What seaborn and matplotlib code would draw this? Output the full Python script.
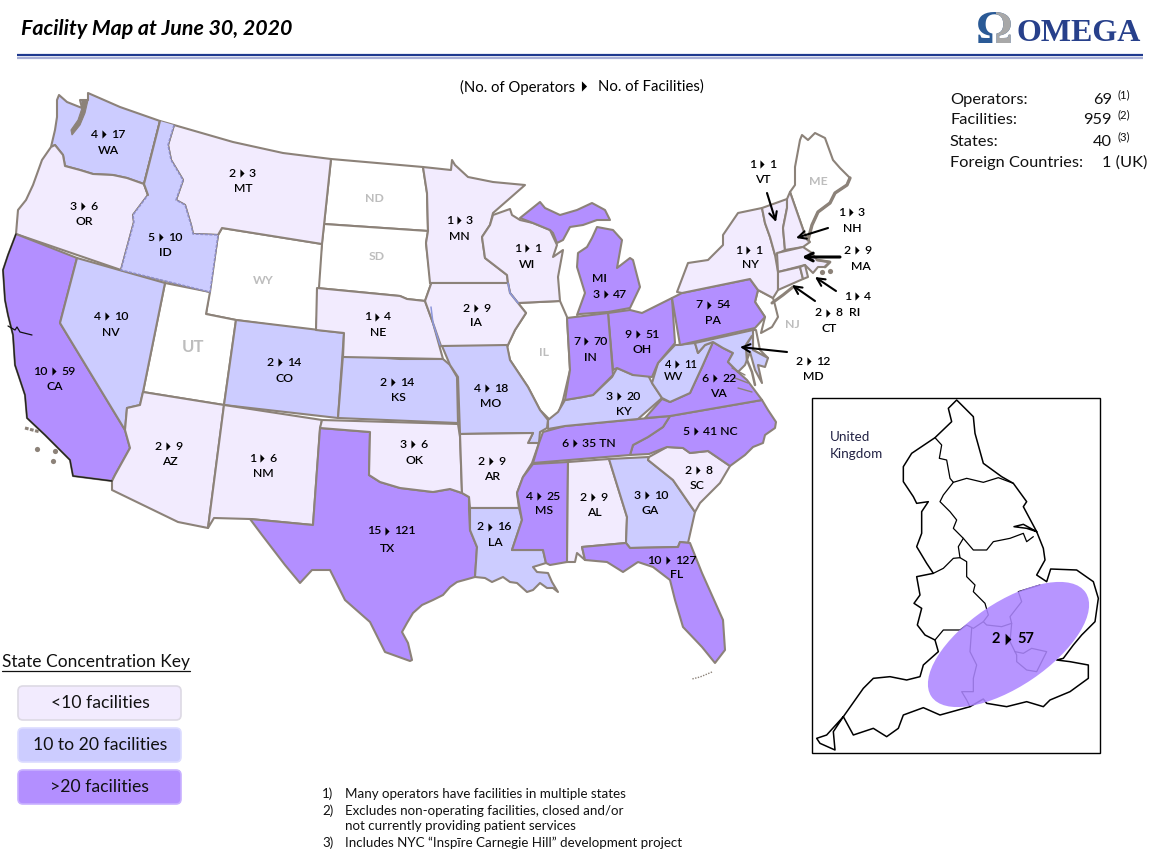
import numpy as np
import pandas as pd
import matplotlib
matplotlib.use("Agg")
import matplotlib.pyplot as plt
from matplotlib.patches import Polygon, Ellipse, FancyBboxPatch, Rectangle
import seaborn as sns

# ---------- values ----------
STATE_CODES = ["WA","OR","CA","NV","ID","MT","NE","CO","KS","AZ","NM","TX","OK","MO","AR","LA","MS","AL","GA","SC",
               "FL","KY","VA","WV","IN","OH","PA","MI","WI","MN","IA","NY","VT","NH","MA","RI","CT","MD","NC","TN"]
OPERATORS  = [4,3,10,4,5,2,1,2,2,2,1,15,3,4,2,2,4,2,3,2,10,3,6,4,7,9,7,3,1,1,2,1,1,1,2,1,2,2,5,6]
FACILITIES = [17,6,59,10,10,3,4,14,14,9,6,121,6,18,9,16,25,9,10,8,127,20,22,11,70,51,54,47,1,3,9,1,1,3,9,4,8,12,41,35]
LABEL_X = [104,83,54,107,161,242,377,280,393,168,262,387,413,487,491,490,539,593,647,698,
           668,619,715,677,586,638,709,606,527,459,476,748,762,851,857,857,828,809,696,575]
LABEL_Y = [134,206,371,316,237,173,317,362,382,446,458,531,444,388,461,527,496,497,495,470,
           560,396,378,364,341,334,305,294,248,220,308,250,164,212,250,296,313,361,431,443]
NAME_X  = [108,84,55,111,165,243,378,284,398,170,263,387,415,491,492,495,544,594,650,697,
           677,624,718,674,590,642,713,599,527,459,476,750,763,852,861,855,829,813,0,0]
NAME_Y  = [150,221,386,332,252,188,332,378,397,461,473,548,460,403,476,543,511,512,510,485,
           575,411,393,376,357,349,320,278,264,236,323,265,179,228,266,312,328,376,0,0]
NO_DATA_CODES = ["ND","SD","WY","UT","IL","NJ","ME"]
NO_DATA_X = [374,377,263,193,544,792,818]
NO_DATA_Y = [198,257,281,347,352,325,181]
KEY_LABELS = ["<10 facilities","10 to 20 facilities",">20 facilities"]
STAT_NAMES = ["Operators:","Facilities:","States:","Foreign Countries:"]
STAT_VALUES = ["69","959","40"]
STAT_NOTES = ["(1)","(2)","(3)"]
FOOTNOTES = ["Many operators have facilities in multiple states",
             "Excludes non-operating facilities, closed and/or",
             "not currently providing patient services",
             "Includes NYC \u201cInsp\u012bre Carnegie Hill\u201d development project"]

# ---------- outlines ----------
SHAPES = {
"ND":[(331,159),(423,167),(427,193),(428,231),(324,224)],
"SD":[(324,224),(428,231),(426,243),(431,284),(425,301),(407,299),(400,296),(317,288)],
"WY":[(222,228),(322,244),(316,331),(236,320),(206,314),(218,235)],
"UT":[(165,283),(210,292),(206,314),(236,320),(224,405),(143,392)],
"IL":[(518,303),(560,301),(567,317),(570,370),(563,400),(557,417),(550,420),(540,410),(528,387),(510,360),(507,347),(515,330),(526,313)],
"NJ":[(773,298),(758,290),(755,302),(765,317),(761,333),(772,327),(778,317),(775,305)],
"ME":[(790,192),(795,185),(795,167),(800,140),(802,135),(808,140),(815,133),(825,138),(833,160),(840,168),(850,178),(847,185),(835,193),(830,203),(818,212),(812,225),(808,240),(805,235)],
"DE":[(753,330),(756,330),(760,350),(768,358),(753,350)],
"WA":[(59,95),(67,102),(82,108),(80,100),(88,100),(88,93),(120,107),(160,121),(144,184),(127,178),(113,175),(93,174),(80,170),(65,166),(63,155),(55,145),(51,147),(55,130),(57,117),(57,100)],
"OR":[(51,147),(55,145),(63,155),(65,166),(80,170),(93,174),(113,175),(127,178),(144,184),(148,195),(133,215),(134,222),(121,270),(16,234),(18,210),(26,200),(33,185),(42,160)],
"CA":[(16,234),(77,258),(60,323),(125,430),(130,448),(115,475),(112,481),(73,476),(70,460),(45,435),(27,418),(25,395),(15,365),(13,335),(8,315),(5,300),(3,270),(8,255)],
"NV":[(77,258),(165,283),(143,392),(140,405),(127,408),(125,430),(60,323)],
"MT":[(174,125),(233,142),(283,153),(331,159),(322,244),(222,228),(218,235),(193,234),(191,225),(185,205),(176,200),(183,180),(171,160),(168,145)],
"ID":[(160,121),(174,125),(168,145),(171,160),(183,180),(176,200),(185,205),(191,225),(193,234),(218,235),(210,292),(121,270),(134,222),(133,215),(148,195),(144,184)],
"CO":[(236,320),(344,333),(338,418),(224,405)],
"AZ":[(143,392),(224,405),(208,528),(178,522),(112,490),(112,481),(115,475),(130,448),(125,430),(127,408),(140,405)],
"NM":[(224,405),(322,420),(320,430),(313,525),(250,519),(214,518),(208,528)],
"TX":[(320,428),(370,432),(369,475),(380,482),(400,488),(433,492),(450,489),(462,493),(469,497),(469,509),(470,530),(477,547),(475,577),(457,582),(450,587),(443,595),(433,600),(422,605),(413,613),(407,623),(402,632),(408,643),(412,660),(410,661),(385,652),(370,622),(345,600),(330,570),(312,570),(300,583),(285,565),(262,535),(250,519),(313,525)],
"OK":[(322,420),(458,424),(460,437),(462,493),(450,489),(433,492),(400,488),(380,482),(369,475),(370,432),(320,428)],
"KS":[(343,355),(400,359),(443,359),(450,365),(457,377),(458,423),(338,418)],
"NE":[(317,288),(400,296),(407,299),(425,301),(433,323),(443,359),(343,357),(344,333),(316,330)],
"MN":[(423,167),(451,170),(452,160),(455,165),(468,177),(493,182),(525,185),(493,213),(490,225),(482,237),(485,258),(507,275),(508,283),(430,283),(426,243),(428,231),(427,193)],
"WI":[(493,215),(510,209),(512,215),(520,220),(533,223),(550,230),(557,245),(553,257),(563,250),(558,277),(560,301),(518,303),(510,293),(508,283),(507,275),(485,258),(482,237),(490,225)],
"IA":[(430,283),(508,283),(510,293),(518,303),(526,313),(515,330),(507,347),(441,346),(433,323),(425,301),(431,284)],
"MO":[(442,346),(507,345),(510,360),(528,387),(540,410),(548,420),(547,428),(540,432),(539,443),(528,443),(533,433),(460,434),(458,377),(450,365)],
"AR":[(460,434),(533,433),(528,443),(539,443),(532,463),(523,477),(517,493),(519,508),(470,508),(469,497),(462,493)],
"LA":[(470,508),(519,508),(522,520),(512,550),(543,550),(546,563),(533,567),(537,572),(548,573),(552,582),(558,592),(553,588),(547,588),(540,583),(533,590),(527,592),(517,583),(510,582),(503,577),(492,582),(485,578),(475,577),(477,547),(470,530)],
"MS":[(533,464),(568,462),(567,562),(550,565),(546,563),(543,550),(512,550),(522,520),(517,493),(523,477)],
"AL":[(568,462),(609,459),(627,517),(626,543),(582,547),(585,560),(577,553),(575,562),(567,562)],
"GA":[(609,459),(649,457),(648,460),(673,480),(695,512),(688,543),(680,542),(678,547),(630,548),(626,543),(627,517)],
"FL":[(582,547),(626,543),(630,548),(678,547),(680,542),(690,543),(702,573),(723,620),(725,650),(715,663),(702,647),(683,627),(675,600),(670,580),(653,567),(638,562),(623,572),(607,562),(585,560)],
"SC":[(649,457),(667,447),(683,448),(690,453),(708,451),(730,466),(720,483),(700,503),(695,512),(673,480),(648,460)],
"NC":[(670,416),(762,400),(768,410),(776,422),(775,428),(765,435),(763,443),(753,447),(745,455),(730,466),(708,451),(690,453),(683,448),(667,447),(649,454),(630,455),(633,445),(648,437),(663,427)],
"TN":[(543,432),(565,426),(670,416),(663,427),(648,437),(633,445),(630,455),(533,463),(539,443)],
"KY":[(548,420),(548,429),(565,426),(638,419),(662,398),(652,383),(648,375),(633,375),(617,368),(612,377),(593,395),(583,397),(565,400),(558,412)],
"VA":[(645,418),(662,399),(670,402),(690,393),(702,367),(713,342),(723,348),(733,353),(728,362),(738,372),(747,380),(762,400),(670,416)],
"WV":[(652,383),(658,363),(675,345),(678,345),(695,343),(698,353),(705,345),(713,342),(702,367),(690,393),(670,402),(662,398)],
"OH":[(608,313),(630,310),(642,313),(672,298),(675,343),(658,363),(652,377),(633,375),(617,368),(613,370)],
"IN":[(567,318),(608,313),(613,375),(593,395),(583,397),(565,400),(570,370)],
"MI":[(580,314),(608,312),(630,308),(640,287),(633,260),(630,258),(617,268),(622,240),(613,230),(597,227),(592,238),(587,247),(578,253),(577,267),(585,293),(577,315)],
"MI2":[(520,218),(540,202),(545,208),(560,215),(577,210),(592,203),(605,210),(610,220),(597,220),(583,225),(570,227),(563,240),(557,243),(553,233),(550,230),(533,223)],
"PA":[(682,293),(750,279),(758,290),(755,302),(765,317),(755,328),(680,345),(672,298)],
"NY":[(682,293),(677,292),(688,263),(708,260),(723,245),(723,235),(738,213),(762,208),(765,223),(770,237),(775,255),(778,272),(778,290),(773,298),(758,290),(750,279)],
"VT":[(762,208),(787,199),(787,208),(783,228),(785,250),(775,255),(770,237),(765,223)],
"NH":[(787,199),(790,192),(805,235),(810,242),(803,247),(785,250),(783,228),(787,208)],
"MA":[(777,253),(803,247),(812,253),(817,260),(830,262),(825,267),(818,267),(813,273),(805,265),(778,272)],
"CT":[(778,272),(800,267),(803,279),(778,290)],
"RI":[(800,267),(805,265),(808,277),(803,279)],
"MD":[(695,343),(753,330),(753,350),(768,358),(765,367),(758,365),(762,383),(755,370),(750,352),(745,365),(738,372),(728,362),(733,353),(723,348),(713,342),(705,345),(698,353)],
}
SECOND_PART = {"MI2":"MI"}
ID_DASHED = [(174,125),(168,145),(171,160),(183,180),(176,200),(185,205),(191,225),(193,234),(218,235),(210,292),(121,270),(134,222),(133,215),(148,195)]
IA_BLUE_W = [(431,307),(433,323),(440,345)]
IA_BLUE_E = [(508,283),(510,293),(518,303)]
CA_COAST = [(16,234),(8,255),(3,270),(5,300),(8,315),(13,335),(15,365),(25,395),(27,418),(45,435),(70,460),(73,476),(112,481)]
SF_BAY = [(8,326),(15,330),(17,327),(20,332),(32,335)]
PUGET = [(82,100),(88,100),(85,113),(80,125),(72,135),(71,130),(78,120),(82,108)]
LONG_ISLAND = [(772,303),(783,295),(793,287)]
ME_COAST = [(850,178),(847,185),(835,193),(830,203),(818,212),(812,225),(808,240)]
CAPE = [(817,260),(830,262),(825,267)]
CHESAPEAKE = [(752,336),(746,345),(747,360),(752,372),(755,385)]
VA_RIVERS = [[(735,378),(748,383)],[(738,388),(752,392)],[(732,368),(745,375)]]
CA_ISLAND_LINE = [(25,428),(40,432)]
CA_ISLANDS_X = [37,55,53]
CA_ISLANDS_Y = [449,451,461]
MA_ISLANDS_X = [830,822]
MA_ISLANDS_Y = [271,272]
FL_KEYS = [(712,672),(700,677),(692,679)]

UK_OUTLINE = [(440,15),(490,65),(495,115),(520,205),(575,245),(610,265),(650,320),(640,335),(680,410),(650,400),(612,395),(640,388),(680,410),(700,460),(705,495),(680,540),(710,560),(722,522),(800,525),(850,560),(865,610),(855,680),(815,720),(790,750),(760,790),(740,795),(780,800),(835,810),(835,850),(780,890),(720,915),(700,935),(650,920),(590,935),(530,925),(520,912),(480,935),(390,960),(340,938),(280,960),(265,1000),(230,1025),(190,1000),(130,1020),(100,965),(70,1010),(75,1065),(30,1045),(20,1030),(50,1020),(100,965),(160,880),(190,850),(240,845),(290,855),(330,845),(340,810),(385,770),(375,735),(345,720),(322,690),(335,640),(312,625),(330,600),(320,545),(370,535),(350,505),(320,455),(335,415),(335,350),(355,320),(320,325),(310,305),(280,260),(280,215),(305,175),(375,128),(425,80),(415,40),(440,15)]
UK_BORDERS = [
 [(375,128),(395,150),(388,190),(410,195),(420,250),(430,262)],
 [(430,262),(400,300),(390,320),(420,350),(440,375),(430,400),(460,430),(490,465),(530,465),(550,440),(600,430),(640,415),(650,440),(670,425)],
 [(430,262),(470,250),(520,262),(565,248),(610,265)],
 [(460,430),(445,455),(450,488),(470,500),(470,545),(495,570),(490,590),(525,625),(535,660),(520,680),(490,700),(470,690),(450,705),(400,705),(375,735)],
 [(450,488),(430,490),(400,520),(370,535)],
 [(690,570),(625,590),(635,620),(600,665),(605,685),(575,695),(530,690),(520,680)],
 [(605,685),(600,740),(620,780),(620,800),(650,825),(680,830),(710,770),(665,760),(640,775),(615,770)],
 [(485,700),(480,770),(500,810),(490,850),(490,890),(455,890),(470,915),(480,935)],
]

# ---------- style ----------
sns.set_theme(style="white")
plt.rcParams["font.family"] = ["Lato", "DejaVu Sans"]
KEY_COLORS = sns.color_palette(["#F2EBFE", "#CCCCFF", "#B38FFF"])
EDGE = "#8C8279"
NAVY = "#1F3A8F"
TRI = [(-0.5, -1), (0.5, 0), (-0.5, 1)]

def shade(n):
    return KEY_COLORS[0] if n < 10 else (KEY_COLORS[2] if n > 20 else KEY_COLORS[1])

fig = plt.figure(figsize=(11.59, 8.5), dpi=100, facecolor="white")
ax = fig.add_axes([0, 0, 1, 1])
ax.set_xlim(0, 1159); ax.set_ylim(850, 0); ax.axis("off")

facs = dict(zip(STATE_CODES, FACILITIES))
for name, pts in SHAPES.items():
    code = SECOND_PART.get(name, name)
    fc = shade(facs[code]) if code in facs else "white"
    ax.add_patch(Polygon(pts, closed=True, facecolor=fc, edgecolor=EDGE, lw=1.5, joinstyle="round", zorder=2))

def line(pts, **kw):
    a = np.array(pts); ax.plot(a[:, 0], a[:, 1], solid_joinstyle="round", **kw)

ax.add_patch(Polygon(SHAPES["ID"], closed=True, facecolor=shade(10), edgecolor="none", zorder=2.1))
line(ID_DASHED, color="#8E8EC4", lw=1.1, ls=(0, (2, 1)), zorder=2.2)
line([(160,121),(144,184),(148,195)], color=EDGE, lw=1.5, zorder=2.2)
line(IA_BLUE_W, color="#8C96DC", lw=1.1, zorder=2.3)
line(IA_BLUE_E, color="#8C96DC", lw=1.1, zorder=2.3)
line(CA_COAST, color="#222222", lw=1.0, zorder=2.4)
line(SF_BAY, color="#111111", lw=0.9, zorder=2.4)
ax.add_patch(Polygon(PUGET, closed=True, facecolor=EDGE, edgecolor=EDGE, lw=0.8, zorder=2.4))
line(LONG_ISLAND, color=EDGE, lw=2.2, zorder=2.4)
line(ME_COAST, color=EDGE, lw=2.4, zorder=2.4)
line(CAPE, color=EDGE, lw=2.0, zorder=2.4)
line(CHESAPEAKE, color=EDGE, lw=1.8, zorder=2.4)
for r in VA_RIVERS:
    line(r, color=EDGE, lw=1.0, zorder=2.4)
line(FL_KEYS, color=EDGE, lw=1.0, ls=(0, (1, 1)), zorder=2.4)
line(CA_ISLAND_LINE, color=EDGE, lw=2.2, ls=(0, (1.2, 0.5)), zorder=2.4)
sns.scatterplot(x=CA_ISLANDS_X + MA_ISLANDS_X, y=CA_ISLANDS_Y + MA_ISLANDS_Y, ax=ax, color=EDGE, s=14,
                marker="o", linewidth=0, legend=False, zorder=2.4)

# ---------- state labels ----------
LABEL_SIZE = 8.8
LABEL_WEIGHT = 600
SINGLE_LINE = {"NC": "NC", "TN": "TN"}
tri = pd.DataFrame({"x": LABEL_X, "y": LABEL_Y})
sns.scatterplot(data=tri, x="x", y="y", ax=ax, marker=TRI, s=36, color="black", linewidth=0, legend=False, zorder=5)
for code, o, f, x, y, nx, ny in zip(STATE_CODES, OPERATORS, FACILITIES, LABEL_X, LABEL_Y, NAME_X, NAME_Y):
    small = 8.0 if code == "WV" else LABEL_SIZE
    ax.text(x - 6, y, str(o), ha="right", va="center", fontsize=small, color="black", zorder=6, fontweight=LABEL_WEIGHT)
    tail = f"{f} {code}" if code in SINGLE_LINE else str(f)
    ax.text(x + 7, y, tail, ha="left", va="center", fontsize=small, color="black", zorder=6, fontweight=LABEL_WEIGHT)
    if code not in SINGLE_LINE:
        ax.text(nx, ny, code, ha="center", va="center", fontsize=small, color="black", zorder=6, fontweight=LABEL_WEIGHT)
for code, x, y in zip(NO_DATA_CODES, NO_DATA_X, NO_DATA_Y):
    ax.text(x, y, code, ha="center", va="center", color="#BDBDBD", fontweight="bold",
            fontsize=12 if code == "UT" else 8.8, zorder=6)

# ---------- arrows ----------
ARROWS = [((767,193),(776,222),1.5),((828,228),(796,238),1.5),((840,257),(802,257),2.2),
          ((836,291),(815,277),1.5),((815,301),(792,285),1.5),((787,352),(740,347),1.5)]
for a, b, w in ARROWS:
    ax.annotate("", xy=b, xytext=a, zorder=7,
                arrowprops=dict(arrowstyle="->", color="black", lw=w, mutation_scale=14, shrinkA=0, shrinkB=0))

# ---------- header ----------
ax.text(21, 29, "Facility Map at June 30, 2020", fontsize=15.4, fontweight="bold", fontstyle="italic",
        ha="left", va="center", color="black")
ax.plot([17, 1143], [55, 55], color=NAVY, lw=1.6, solid_capstyle="butt")
ax.plot([17, 1143], [57.5, 57.5], color="#A9B0D6", lw=1.6, solid_capstyle="butt")
ax.text(1079, 33, "OMEGA", family="Liberation Serif", fontsize=23, fontweight="bold", color="#27408B", ha="center", va="center")
om1 = ax.text(994, 32, "\u03a9", family="Liberation Serif", fontsize=33, fontweight="bold", color="#2A5A96", ha="center", va="center")
om2 = ax.text(994, 32, "\u03a9", family="Liberation Serif", fontsize=33, fontweight="bold", color="#A8A8A8", ha="center", va="center")
om2.set_clip_on(True)
om2.set_clip_path(Rectangle((996, 10), 22, 40, transform=ax.transData))

ax.text(575, 87, "(No. of Operators", fontsize=10.7, ha="right", va="center", color="black")
ax.text(598, 87, "No. of Facilities)", fontsize=10.7, ha="left", va="center", color="black")
sns.scatterplot(x=[584], y=[86], ax=ax, marker=TRI, s=55, color="black", linewidth=0, legend=False, zorder=5)

# ---------- stats ----------
STAT_Y = [100, 120, 142, 163]
for s, y in zip(STAT_NAMES, STAT_Y):
    ax.text(950, y, s, fontsize=11.8, ha="left", va="center", color="#111111")
for v, n, y in zip(STAT_VALUES, STAT_NOTES, STAT_Y):
    ax.text(1112, y, v, fontsize=11.8, ha="right", va="center", color="#111111")
    ax.text(1117, y - 5, n, fontsize=8.2, ha="left", va="center", color="#111111")
ax.text(1147, STAT_Y[3], "1 (UK)", fontsize=11.8, ha="right", va="center", color="#111111")

# ---------- key ----------
ax.text(2, 662, "State Concentration Key", fontsize=12.5, ha="left", va="center", color="#111111")
ax.plot([2, 190], [671, 671], color="#111111", lw=0.9)
KEY_EDGES = ["#DDD9E4", "#DCDCFF", "#C8B0FF"]
for lab, c, e, top in zip(KEY_LABELS, KEY_COLORS, KEY_EDGES, [686, 728, 770]):
    ax.add_patch(FancyBboxPatch((22, top + 4), 155, 26, boxstyle="round,pad=4,rounding_size=5",
                                facecolor=c, edgecolor=e, lw=1.2))
    ax.text(100, top + 17, lab, fontsize=12.7, ha="center", va="center", color="#111111")

# ---------- footnotes ----------
FOOT_Y = [794, 811, 826, 843]
FOOT_NUM = ["1)", "2)", None, "3)"]
for t, n, y in zip(FOOTNOTES, FOOT_NUM, FOOT_Y):
    ax.text(345, y, t, fontsize=9.65, ha="left", va="center", color="#111111")
    if n:
        ax.text(322, y, n, fontsize=9.65, ha="left", va="center", color="#111111")

# ---------- UK inset ----------
ax.add_patch(Rectangle((812, 398), 288, 355, facecolor="white", edgecolor="black", lw=1.0, zorder=1))
ax.text(830, 437, "United", fontsize=9.7, ha="left", va="center", color="#222244", zorder=2)
ax.text(830, 454, "Kingdom", fontsize=9.7, ha="left", va="center", color="#222244", zorder=2)
def uk(p):
    a = np.array(p, dtype=float)
    return np.c_[810 + a[:, 0] / 3, 395 + a[:, 1] / 3]
ax.add_patch(Polygon(uk(UK_OUTLINE), closed=True, facecolor="white", edgecolor="black", lw=1.1, zorder=2, joinstyle="round"))
for b in UK_BORDERS:
    p = uk(b); ax.plot(p[:, 0], p[:, 1], color="black", lw=0.9, zorder=2.1)
ax.add_patch(Ellipse((1008.5, 644.5), 186, 84, angle=-34, facecolor="#AD87FF", edgecolor="none", alpha=0.88, zorder=3))
sns.scatterplot(x=[1008], y=[639], ax=ax, marker=TRI, s=70, color="black", linewidth=0, legend=False, zorder=5)
ax.text(1000, 639, "2", fontsize=10.5, fontweight="bold", ha="right", va="center", color="black", zorder=6)
ax.text(1017, 639, "57", fontsize=10.5, fontweight="bold", ha="left", va="center", color="black", zorder=6)

ax.set_xlabel(""); ax.set_ylabel("")
ax.set_xlim(0, 1159); ax.set_ylim(850, 0)
fig.savefig("out.png", dpi=100, facecolor="white")
